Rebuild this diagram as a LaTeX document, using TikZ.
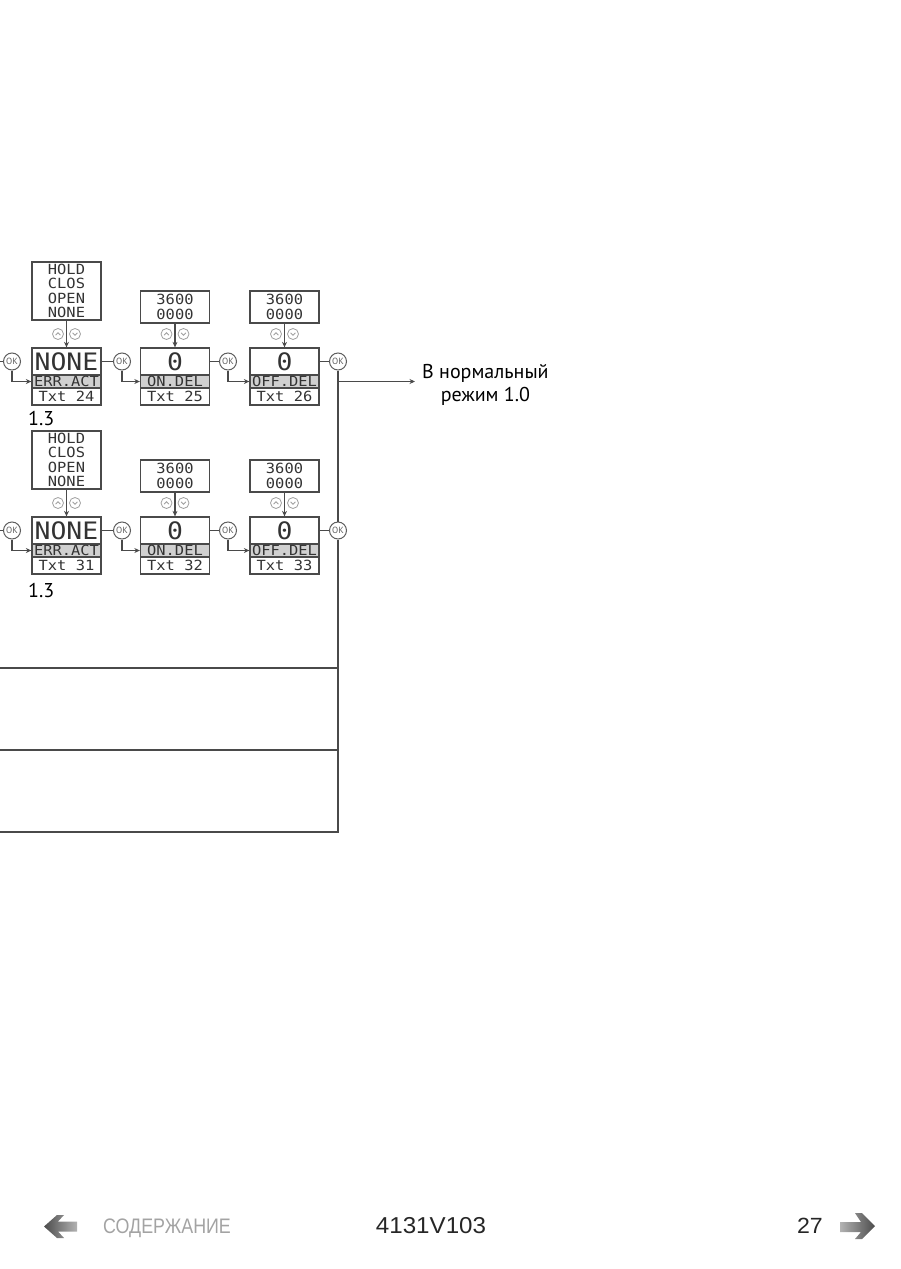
\documentclass[tikz,border=0pt]{standalone}
\usepackage{fontspec}
\setmainfont{PT Sans}
\newfontfamily\lcd[FakeStretch=1.1]{DejaVu Sans Mono}
\newfontfamily\footf[FakeStretch=1.05]{Liberation Sans}
\newfontfamily\footn[FakeStretch=0.85]{Liberation Sans}
\usetikzlibrary{arrows.meta}
\definecolor{linec}{HTML}{4A4A4A}
\definecolor{bandc}{HTML}{D0D0D0}
\definecolor{okcol}{HTML}{5E5E5E}
\definecolor{udc}{HTML}{A0A0A0}
\definecolor{lcdc}{HTML}{333333}
\definecolor{footgray}{HTML}{A3A3A3}
\tikzset{
  ln/.style={draw=linec, line width=1.3pt},
  disp/.style={ln, fill=white, minimum width=69pt, minimum height=27pt, inner sep=0pt, text=lcdc, font=\lcd\fontsize{24}{24}\selectfont},
  band/.style={ln, fill=bandc, minimum width=69pt, minimum height=13pt, inner sep=0pt, text=lcdc, font=\lcd\fontsize{14}{14}\selectfont},
  txtrow/.style={ln, fill=white, minimum width=69pt, minimum height=17pt, inner sep=0pt, text=lcdc, font=\lcd\fontsize{14}{14}\selectfont},
  optbox/.style={ln, fill=white, minimum width=69pt, inner sep=0pt, align=center, text=lcdc, font=\lcd\fontsize{14}{14.5}\selectfont},
  okc/.style={circle, draw=okcol, fill=white, line width=1pt, minimum size=17pt, inner sep=0pt, text=okcol, font=\fontsize{9}{9}\selectfont},
  udi/.style={circle, draw=udc, fill=white, line width=0.8pt, minimum size=11pt, inner sep=0pt},
  chev/.style={draw=udc, line width=0.8pt},
  arr/.style={ln, -{Stealth[length=5.5pt,width=5pt]}},
  lbl/.style={inner sep=0pt, text=black, font=\fontsize{20}{23}\selectfont}
}
\begin{document}
\begin{tikzpicture}[x=1pt,y=-1pt]
\useasboundingbox (0,0) rectangle (900,1269);

\foreach \r/\dy/\ta/\tb/\tc/\ly in {1/0/24/25/26/418, 2/169/31/32/33/590} {
  % option boxes
  \node[optbox, minimum height=58pt] (o\r1) at (66.5, 291+\dy) {HOLD\\CLOS\\OPEN\\NONE};
  \node[optbox, minimum height=32pt] (o\r2) at (175, 307+\dy) {3600\\0000};
  \node[optbox, minimum height=32pt] (o\r3) at (284.5, 307+\dy) {3600\\0000};
  % main boxes
  \node[disp] (d\r1) at (66.5, 361.5+\dy) {NONE};
  \node[band] (b\r1) at (66.5, 381.5+\dy) {ERR.ACT};
  \node[txtrow] (t\r1) at (66.5, 396.5+\dy) {Txt \ta};
  \node[disp] (d\r2) at (175, 361.5+\dy) {0};
  \node[band] (b\r2) at (175, 381.5+\dy) {ON.DEL};
  \node[txtrow] (t\r2) at (175, 396.5+\dy) {Txt \tb};
  \node[disp] (d\r3) at (284.5, 361.5+\dy) {0};
  \node[band] (b\r3) at (284.5, 381.5+\dy) {OFF.DEL};
  \node[txtrow] (t\r3) at (284.5, 396.5+\dy) {Txt \tc};
  % up/down icons
  \foreach \c/\x in {1/66.5, 2/175, 3/284.5} {
    \node[udi] (ua\r\c) at (\x-8.5, 334+\dy) {};
    \node[udi] (ub\r\c) at (\x+8.5, 334+\dy) {};
    \draw[chev] ([xshift=-2.4pt,yshift=-1.2pt]ua\r\c.center) -- ++(2.4pt,2.4pt) -- ++(2.4pt,-2.4pt);
    \draw[chev] ([xshift=-2.4pt,yshift=1.2pt]ub\r\c.center) -- ++(2.4pt,-2.4pt) -- ++(2.4pt,2.4pt);
    \draw[arr] (o\r\c.south) -- (d\r\c.north);
  }
  % OK buttons
  \node[okc] (k\r1) at (12, 361.5+\dy) {OK};
  \node[okc] (k\r2) at (122, 361.5+\dy) {OK};
  \node[okc] (k\r3) at (228, 361.5+\dy) {OK};
  \node[okc] (k\r4) at (338, 361.5+\dy) {OK};
  \coordinate (in\r) at (0, 361.5+\dy);
  \draw[ln] (in\r) -- (k\r1.west);
  \draw[arr] (k\r1.south) |- (b\r1.west);
  \draw[ln] (d\r1.east) -- (k\r2.west);
  \draw[arr] (k\r2.south) |- (b\r2.west);
  \draw[ln] (d\r2.east) -- (k\r3.west);
  \draw[arr] (k\r3.south) |- (b\r3.west);
  \draw[ln] (d\r3.east) -- (k\r4.west);
  % level label
  \node[lbl, anchor=west] (lv\r) at (28, \ly) {1.3};
}

% right-hand bus
\draw[ln] (k14.south) -- (k24.north);
\coordinate (h3) at (0, 832);
\draw[ln] (k24.south) |- (h3);
\coordinate (h1) at (0, 668);
\coordinate (j1) at (338, 668);
\coordinate (h2) at (0, 750);
\coordinate (j2) at (338, 750);
\draw[ln] (h1) -- (j1);
\draw[ln] (h2) -- (j2);
\coordinate (j0) at (338, 381.5);
\node[lbl, anchor=west, align=center, inner xsep=7pt] (norm) at (415, 385) {В нормальный\\режим 1.0};
\draw[arr] (j0) -- (j0 -| norm.west);

% footer
\shade[left color=black!70, right color=black!30] (44,1226.5) -- (57,1215) -- (64,1215) -- (58,1221.5) -- (77,1221.5) -- (77,1231.5) -- (58,1231.5) -- (64,1238) -- (57,1238) -- cycle;
\node[anchor=west, inner sep=0pt, text=footgray, font=\footn\fontsize{21}{21}\selectfont] (toc) at (103, 1228.5) {СОДЕРЖАНИЕ};
\node[inner sep=0pt, text=black!85, font=\footf\fontsize{23}{23}\selectfont] (code) at (431, 1225.5) {4131V103};
\node[anchor=east, inner sep=0pt, text=black!85, font=\footf\fontsize{22}{22}\selectfont] (page) at (823, 1225.5) {27};
\shade[left color=black!30, right color=black!70] (875,1226) -- (862,1213) -- (855,1213) -- (861,1222) -- (840,1222) -- (840,1232) -- (861,1232) -- (855,1239) -- (862,1239) -- cycle;
\end{tikzpicture}
\end{document}
